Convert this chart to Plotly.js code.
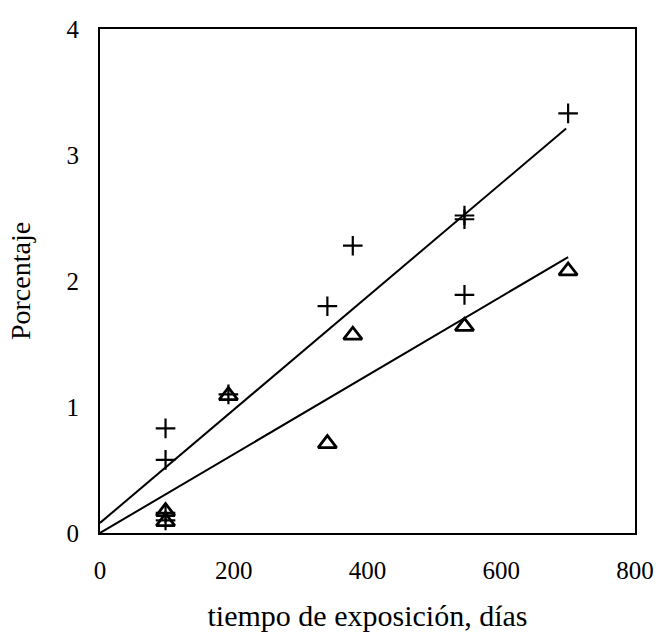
<!DOCTYPE html>
<html>
<head>
<meta charset="utf-8">
<script src="https://cdn.plot.ly/plotly-3.0.1.min.js"></script>
<style>html,body{margin:0;padding:0;background:#fff;}#chart{width:664px;height:637px;}</style>
</head>
<body>
<div id="chart"></div>
<script>
// Data
const crossDays = [98, 98, 98, 98, 192, 340, 378, 545, 545, 545, 700];
const crossPct  = [0.83, 0.58, 0.16, 0.10, 1.10, 1.80, 2.28, 2.52, 2.49, 1.89, 3.33];
const triDays   = [98, 98, 192, 340, 378, 545, 700];
const triPct    = [0.17, 0.09, 1.09, 0.71, 1.57, 1.64, 2.08];
const fitUpperX = [0, 697];
const fitUpperY = [0.08, 3.21];
const fitLowerX = [0, 700];
const fitLowerY = [0.0, 2.19];
const xTicks = [0, 200, 400, 600, 800];
const yTicks = [0, 1, 2, 3, 4];

const serif = 'Liberation Serif, Times New Roman, serif';

const traces = [
  {x: fitUpperX, y: fitUpperY, mode: 'lines', line: {color: '#000', width: 2}, hoverinfo: 'skip'},
  {x: fitLowerX, y: fitLowerY, mode: 'lines', line: {color: '#000', width: 2}, hoverinfo: 'skip'},
  {x: crossDays, y: crossPct, mode: 'markers',
   marker: {symbol: 'cross-thin', size: 14, color: '#000', line: {color: '#000', width: 2.2}}},
  {x: triDays, y: triPct, mode: 'markers',
   marker: {symbol: 'triangle-up-open', size: 16, color: '#000', line: {color: '#000', width: 2.8}}}
];

const layout = {
  width: 664, height: 637,
  margin: {l: 100, r: 29, t: 29, b: 104},
  paper_bgcolor: '#fff', plot_bgcolor: '#fff',
  showlegend: false,
  font: {family: serif, color: '#000', size: 25},
  xaxis: {
    range: [0, 800], tickvals: xTicks, ticktext: xTicks.map(String),
    showgrid: false, zeroline: false, showline: true, mirror: true,
    linecolor: '#000', linewidth: 2, ticks: '', ticklabelstandoff: 14,
    tickfont: {family: serif, size: 25, color: '#000'},
    title: {text: 'tiempo de exposición, días', font: {family: serif, size: 30, color: '#000'}, standoff: 22}
  },
  yaxis: {
    range: [0, 4], tickvals: yTicks, ticktext: yTicks.map(String),
    showgrid: false, zeroline: false, showline: true, mirror: true,
    linecolor: '#000', linewidth: 2, ticks: '', ticklabelstandoff: 14,
    tickfont: {family: serif, size: 25, color: '#000'},
    title: {text: 'Porcentaje', font: {family: serif, size: 28, color: '#000'}, standoff: 28}
  }
};

Plotly.newPlot('chart', traces, layout, {displayModeBar: false, staticPlot: true});
</script>
</body>
</html>
